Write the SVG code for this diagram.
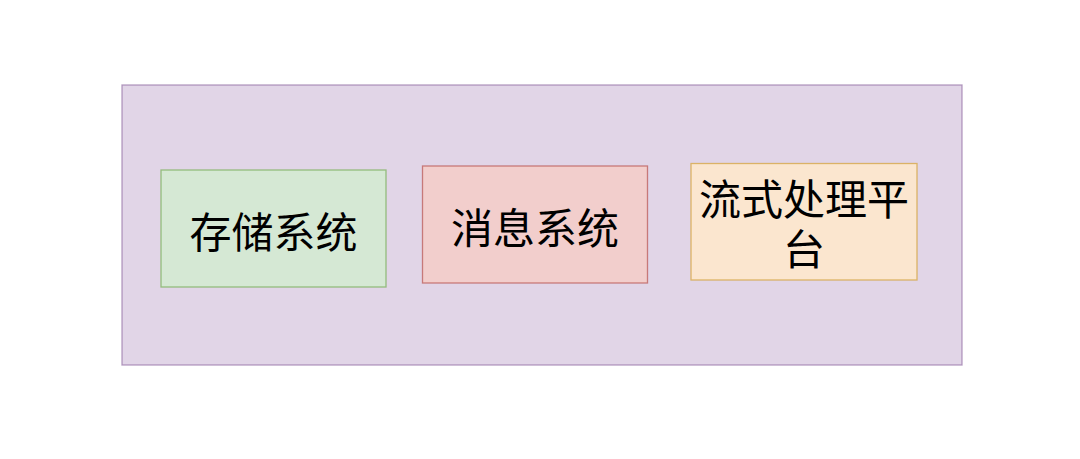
<svg xmlns="http://www.w3.org/2000/svg" width="1080" height="459" viewBox="0 0 1080 459">
<style>
text{font-family:"Noto Sans CJK SC","Noto Sans",sans-serif;font-size:42px;fill:#000;text-anchor:middle;dominant-baseline:central}
.b{stroke-width:1.3}
</style>
<rect width="1080" height="459" fill="#fff"/>
<g id="container"><rect class="b" x="122" y="85" width="840" height="280" fill="#e1d5e7" stroke="#9673a6" stroke-opacity="0.7"/></g>
<g id="storage"><rect class="b" x="161" y="170" width="225" height="117" fill="#d5e8d4" stroke="#82b366" stroke-opacity="0.8"/><text x="273.5" y="229">存储系统</text></g>
<g id="message"><rect class="b" x="422.5" y="166" width="225" height="117" fill="#f2cecc" stroke="#b85450" stroke-opacity="0.7"/><text x="535" y="225">消息系统</text></g>
<g id="stream"><rect class="b" x="691" y="163.5" width="226" height="116.5" fill="#fbe6cf" stroke="#d6a84a" stroke-opacity="0.8"/><text x="804" y="196"><tspan x="804" y="196">流式处理平</tspan><tspan x="804" y="246">台</tspan></text></g>
<g id="connectors"/>
</svg>
